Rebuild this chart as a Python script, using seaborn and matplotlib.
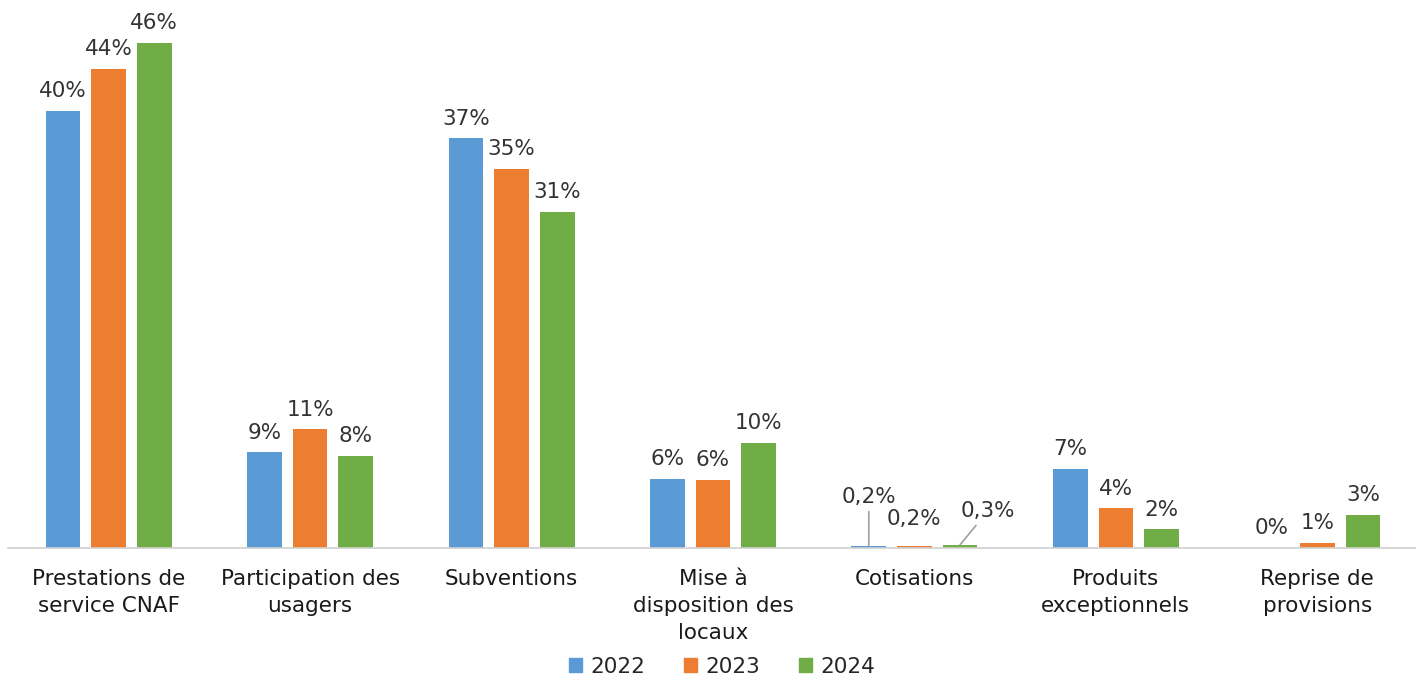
import matplotlib
matplotlib.use("Agg")
import matplotlib.pyplot as plt
import seaborn as sns
import pandas as pd

categories = ["Prestations de\nservice CNAF", "Participation des\nusagers", "Subventions",
              "Mise à\ndisposition des\nlocaux", "Cotisations", "Produits\nexceptionnels",
              "Reprise de\nprovisions"]
years = ["2022", "2023", "2024"]
vals_2022 = [39.8, 8.7, 37.3, 6.3, 0.2, 7.2, 0.0]
vals_2023 = [43.6, 10.8, 34.5, 6.2, 0.2, 3.6, 0.5]
vals_2024 = [46.0, 8.4, 30.6, 9.6, 0.3, 1.7, 3.0]
labels_2022 = ["40%", "9%", "37%", "6%", "0,2%", "7%", "0%"]
labels_2023 = ["44%", "11%", "35%", "6%", "0,2%", "4%", "1%"]
labels_2024 = ["46%", "8%", "31%", "10%", "0,3%", "2%", "3%"]
colors = ["#5B9BD5", "#ED7D31", "#70AD47"]

df = pd.DataFrame({
    "cat": categories * 3,
    "year": [y for y in years for _ in categories],
    "val": vals_2022 + vals_2023 + vals_2024,
})
all_labels = [labels_2022, labels_2023, labels_2024]

sns.set_style("white")
plt.rcParams['font.family'] = ['DejaVu Sans']

fig = plt.figure(figsize=(14.16, 6.88), dpi=100)
ax = fig.add_axes([8 / 1416, 140 / 688, 1410 / 1416, 548 / 688])

sns.barplot(data=df, x="cat", y="val", hue="year", palette=colors, saturation=1,
            width=0.68, gap=0.24, linewidth=0, ax=ax, legend=True)

ax.set_xlim(-0.5, 6.5)
ax.set_ylim(0, 49.9)
for s in ["top", "right", "left"]:
    ax.spines[s].set_visible(False)
ax.spines["bottom"].set_color("#D0D0D0")
ax.spines["bottom"].set_linewidth(1.2)
ax.set_yticks([])
ax.set_xlabel("")
ax.set_ylabel("")
ax.tick_params(axis="x", length=0, pad=15, labelsize=15.5, labelcolor="#1a1a1a")
for t in ax.get_xticklabels():
    t.set_linespacing(1.45)

coti = categories.index("Cotisations")
for i, cont in enumerate(ax.containers):
    labs = list(all_labels[i])
    labs[coti] = ""
    ax.bar_label(cont, labels=labs, padding=7, fontsize=15.5, color="#333333")

# Cotisations labels, moved away from the bars with leader lines
offsets = [(0, 28), (0, 12), (20, 17)]
for i, cont in enumerate(ax.containers):
    p = cont.patches[coti]
    xc = p.get_x() + p.get_width() / 2
    dx, dy = offsets[i]
    arrow = None
    if i != 1:
        arrow = dict(arrowstyle="-", color="#A0A0A0", lw=1.2, shrinkA=1, shrinkB=0)
    ax.annotate(all_labels[i][coti], xy=(xc, p.get_height()), xytext=(dx, dy),
                textcoords="offset points", ha="center", va="bottom",
                fontsize=15.5, color="#333333", arrowprops=arrow)

ax.legend_.remove()
handles = [plt.Rectangle((0, 0), 1, 1, color=c) for c in colors]
fig.legend(handles, years, loc="lower center", bbox_to_anchor=(0.51, -0.012), ncol=3,
           frameon=False, fontsize=15.5, handlelength=0.6, handleheight=0.6,
           handletextpad=0.4, columnspacing=1.8)

fig.savefig("out.png", dpi=100)
